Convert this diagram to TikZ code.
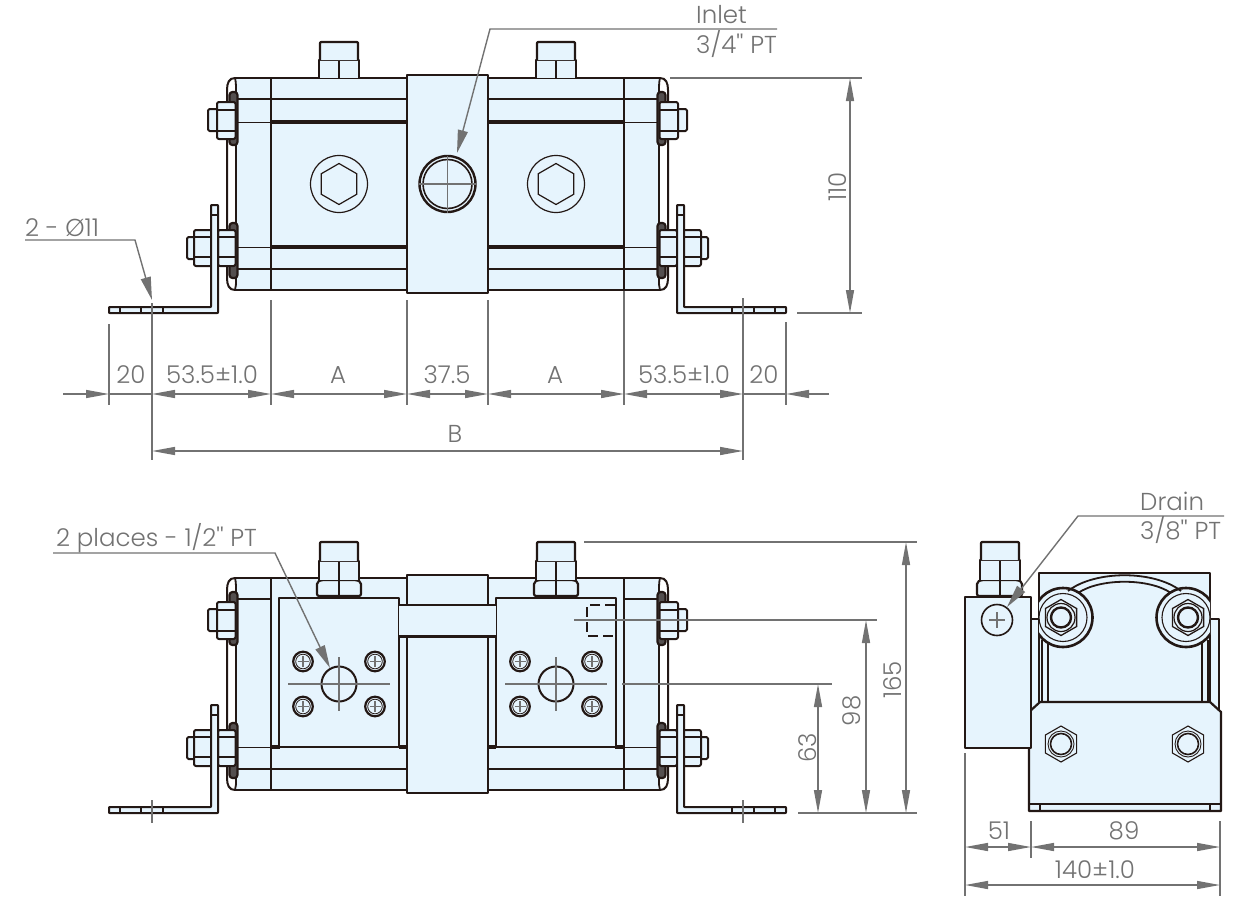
\documentclass[tikz,border=0pt]{standalone}
\usepackage{fontspec}
\usetikzlibrary{arrows.meta}
\newfontfamily\lab{Poppins}[UprightFont=* Light]
\definecolor{lc}{HTML}{231815}
\definecolor{bf}{HTML}{E6F4FD}
\definecolor{gc}{HTML}{727272}
\tikzset{
 blk/.style={line width=2pt,draw=lc,fill=bf,line join=round},
 ln/.style={line width=2pt,draw=lc},
 mid/.style={line width=2.8pt,draw=lc},
 thk/.style={line width=3.8pt,draw=lc},
 thn/.style={line width=1pt,draw=lc},
 dimln/.style={line width=1.4pt,draw=gc},
 dima/.style={dimln,{Triangle[length=23pt,width=8pt,fill=gc]}-{Triangle[length=23pt,width=8pt,fill=gc]}},
 dimo/.style={dimln,-{Triangle[length=23pt,width=8pt,fill=gc]}},
 lead/.style={dimln,-{Triangle[length=23pt,width=10pt,fill=gc]}},
 lbl/.style={text=gc,inner sep=0pt,font=\lab\fontsize{24.5}{28}\selectfont},
}
\newcommand\hexa[3]{(#1,#2) +(90:#3) -- +(150:#3) -- +(210:#3) -- +(270:#3) -- +(330:#3) -- +(30:#3) -- cycle}
\newcommand\bodyhalf{%
 \fill[bf] (236,78) rectangle (447.5,290);
 \draw[ln] (447.5,78) -- (235,78);
 \draw[ln] (447.5,290) -- (235,290);
 \draw[ln] (235,78) .. controls (229,78) and (227,83) .. (227,90) -- (227,278) .. controls (227,285) and (229,290) .. (235,290);
 \draw[line width=1.8pt,draw=lc] (235,78) .. controls (236,82) and (236,86) .. (236,92) -- (236,278) .. controls (236,284) and (236,287) .. (235,290);
 \draw[ln] (271,78) -- (271,290);
}
\newcommand\hardware{%
 % cover washers
 \draw[blk,line width=2.2pt,fill=lc!75!bf,rounded corners=3pt] (229.5,92) rectangle (237.5,145);
 \draw[blk,line width=2.2pt,fill=lc!75!bf,rounded corners=3pt] (229.5,223) rectangle (237.5,278);
 % upper nut
 \draw[blk,rounded corners=1.5pt] (208,109) rectangle (218,131);
 \draw[blk,rounded corners=2pt] (217,102) rectangle (235.5,139);
 \draw[thn,line width=1.4pt] (217,110) -- (235.5,110) (217,131) -- (235.5,131);
 % lower nuts
 \draw[blk,rounded corners=1.5pt] (187,237) rectangle (195,259);
 \draw[blk,rounded corners=2pt] (194,230) rectangle (212,266);
 \draw[thn,line width=1.4pt] (194,237) -- (212,237) (194,257) -- (212,257);
 \draw[blk,rounded corners=2pt] (218,230) rectangle (235.5,266);
 \draw[thn,line width=1.4pt] (218,237) -- (235.5,237) (218,257) -- (235.5,257);
 % bracket
 \draw[blk,rounded corners=.6pt] (109,307) -- (211,307) -- (211,205) -- (218,205) -- (218,313) -- (109,313) -- cycle;
 \draw[thn,line width=1.4pt] (211,215) -- (218,215);
 \draw[thn,line width=1.4pt] (120,307) -- (120,313) (141,307) -- (141,313) (163,307) -- (163,313);
}
\newcommand\halftop{%
 \bodyhalf
 \draw[mid] (236,99) -- (407,99);
 \draw[thn] (236,122) -- (271,122);
 \draw[thk] (271,122) -- (407,122);
 \draw[thk] (271,247) -- (407,247);
 \draw[thn] (236,247) -- (271,247);
 \draw[mid] (236,269) -- (407,269);
 \draw[ln] (271,78) -- (271,290);
 % top plug
 \draw[blk,line width=1.3pt] (319,78) -- (319,60) -- (359,60) -- (359,78);
 \draw[thn,line width=1.4pt] (339,60) -- (339,78);
 \draw[blk,line width=2.2pt,rounded corners=1pt] (320,60) -- (320,42) -- (358,42) -- (358,60);
 % socket screw
 \draw[line width=1.2pt,draw=lc] (339,184) circle[radius=28.5];
 \draw[line width=1.2pt,draw=lc] \hexa{339}{184}{20.5};
 \hardware
}
\newcommand\halfbot{%
 \begin{scope}[shift={(0,500)}]\bodyhalf\end{scope}
 \draw[mid] (236,599) -- (271,599);
 \draw[thn] (236,747) -- (407,747);
 \draw[thk] (271,747) -- (280,747) (399,747) -- (407,747);
 \draw[mid] (236,769) -- (407,769);
 \draw[ln] (271,578) -- (271,790);
 \begin{scope}[shift={(0,500)}]\hardware\end{scope}
 % plate
 \draw[blk,line width=2.2pt] (279,598) rectangle (399,747);
 \draw[thn,line width=1.2pt] (279,747) -- (399,747);
 % plug
 \draw[blk,line width=2.2pt,rounded corners=2pt] (317,596) -- (317,582) -- (321,580) -- (357,580) -- (361,582) -- (361,596) -- cycle;
 \draw[thn,line width=1.4pt] (339,580) -- (339,596);
 \draw[blk,line width=1.8pt] (319,580) -- (319,561) -- (359,561) -- (359,580);
 \draw[thn,line width=1.4pt] (339,561) -- (339,580);
 \draw[blk,line width=2.2pt,rounded corners=1pt] (320,561) -- (320,542) -- (358,542) -- (358,561);
}
\newcommand\screw[2]{%
 \draw[blk,line width=2.2pt] (#1,#2) circle[radius=9.8];
 \draw[thn,line width=.8pt] (#1,#2) circle[radius=7.3];
 \draw[dimln,line width=1.2pt] (#1-5.5,#2) -- (#1+5.5,#2) (#1,#2-5.5) -- (#1,#2+5.5);
}
\newcommand\flange[2]{%
 \draw[line width=2pt,draw=lc] (#1,#2) circle[radius=17.5];
 \screw{#1-36}{#2-22.5}\screw{#1+36}{#2-22.5}\screw{#1-36}{#2+22.5}\screw{#1+36}{#2+22.5}
 \draw[dimln] (#1-51,#2) -- (#1+51,#2);
 \draw[dimln] (#1,#2-27) -- (#1,#2+27);
}
% #1 hub x, #2 hub y, #3 ring x
\newcommand\washer[3]{%
 \draw[blk,line width=2.6pt] (#3,#2) circle[radius=29.5];
 \draw[thn,line width=1.1pt] (#3,#2) circle[radius=24];
 \draw[line width=1.3pt,draw=lc,fill=bf] \hexa{#1}{#2}{18};
 \draw[line width=1.2pt,draw=lc] (#1,#2) circle[radius=14];
 \draw[line width=2.4pt,draw=lc] (#1,#2) circle[radius=10];
}
\newcommand\lownut[2]{%
 \draw[line width=1.1pt,draw=lc] \hexa{#1}{#2}{18};
 \draw[line width=1.6pt,draw=lc] (#1,#2) circle[radius=10.5];
 \draw[line width=.9pt,draw=lc] (#1,#2) circle[radius=13];
}
\begin{document}
\begin{tikzpicture}[x=1pt,y=-1pt]
\useasboundingbox (0,0) rectangle (1244,921);
%% ---------- top view
\halftop
\begin{scope}[shift={(895,0)},xscale=-1]\halftop\end{scope}
\draw[blk,line width=2.2pt] (407,75) rectangle (488,293);
\draw[line width=2.4pt,draw=lc] (447.5,184) circle[radius=28];
\draw[line width=1.6pt,draw=lc] (447.5,184) circle[radius=24.5];
\draw[dimln] (419,184) -- (476,184) (447.5,155.5) -- (447.5,212.5);
%% ---------- bottom view
\halfbot
\begin{scope}[shift={(895,0)},xscale=-1]\halfbot\end{scope}
\draw[blk,line width=2.2pt] (407,575) rectangle (488,793);
\draw[fill=bf,draw=none] (399,605) rectangle (496,636);
\draw[ln,line width=1.6pt] (399,605) -- (496,605);
\draw[thk,line width=3pt] (399,636) -- (496,636);
\flange{339}{684}
\flange{556}{684}
\draw[lc,line width=1.5pt,dash pattern=on 10pt off 5pt] (615,605) -- (587,605) -- (587,636) -- (615,636);
%% ---------- side view
\draw[blk] (1031,619) -- (1039,619) -- (1039,712) -- (1031,712);
\draw[blk] (1219,619) -- (1210,619) -- (1210,712) -- (1219,712) -- cycle;
\draw[blk] (1039,573) rectangle (1210,702);
\draw[thn,line width=1.5pt] (1048,640) -- (1048,702) (1042,640) -- (1042,702) (1202,640) -- (1202,702) (1208,640) -- (1208,702);
\begin{scope}
 \clip (1039,560) rectangle (1210,660);
 \washer{1061}{617.5}{1063}
 \washer{1188}{617.5}{1186}
\end{scope}
\draw[line width=1.8pt,draw=lc] (1068,591) .. controls (1095,570) and (1154,570) .. (1181,591);
\draw[line width=1.8pt,draw=lc] (1078,593) .. controls (1100,578) and (1149,578) .. (1171,593);
\draw[blk,line width=2.2pt] (1029,712) -- (1040,702) -- (1210,702) -- (1221,712) -- (1221,811) -- (1029,811) -- cycle;
\draw[line width=2.2pt,draw=lc] (1029,804) -- (1221,804);
\draw[line width=1.4pt,draw=lc] (1040,804) -- (1040,811) (1210,804) -- (1210,811);
\lownut{1061}{744}
\lownut{1188}{744}
\draw[blk,line width=2.2pt,rounded corners=2pt] (977,596) -- (977,582) -- (981,580) -- (1018,580) -- (1022,582) -- (1022,596) -- cycle;
\draw[thn,line width=1.4pt] (1000,580) -- (1000,596);
\draw[blk,line width=1.8pt] (980,580) -- (980,560) -- (1020,560) -- (1020,580);
\draw[thn,line width=1.4pt] (1000,560) -- (1000,580);
\draw[blk,line width=2.2pt,rounded corners=1pt] (981,560) -- (981,542) -- (1019,542) -- (1019,560);
\draw[blk,line width=2.2pt] (965,597) rectangle (1031,748);
\draw[line width=1.6pt,draw=lc,fill=bf] (997,620) circle[radius=15.5];
\draw[dimln] (989,620) -- (1005,620) (997,612) -- (997,628);
%% ---------- extension lines
\draw[dimln] (109,324) -- (109,405) (152,303) -- (152,460) (271,300) -- (271,405) (407,300) -- (407,405)
 (488,300) -- (488,405) (624,291) -- (624,405) (743,298) -- (743,460) (786,322) -- (786,405);
\draw[dimln] (670,78) -- (862,78) (797,313) -- (862,313);
\draw[dimln] (584,542) -- (917,542) (574,620) -- (877,620) (622,684) -- (832,684) (798,813) -- (917,813);
\draw[dimln] (152,800) -- (152,823) (743,800) -- (743,823);
\draw[dimln] (965,753) -- (965,896) (1031,821) -- (1031,858) (1220,821) -- (1220,896);
%% ---------- dimension arrows
\coordinate (h0) at (63,394);
\coordinate (h1) at (109,394);
\coordinate (h2) at (152,394);
\coordinate (h3) at (271,394);
\coordinate (h4) at (407,394);
\coordinate (h5) at (488,394);
\coordinate (h6) at (624,394);
\coordinate (h7) at (743,394);
\coordinate (h8) at (786,394);
\coordinate (h9) at (829,394);
\draw[dimo] (h0) -- (h1);
\draw[dimo] (h9) -- (h8);
\draw[dimln] (h1) -- (h2);
\draw[dima] (h2) -- (h3);
\draw[dima] (h3) -- (h4);
\draw[dima] (h4) -- (h5);
\draw[dima] (h5) -- (h6);
\draw[dima] (h6) -- (h7);
\draw[dimln] (h7) -- (h8);
\draw[dima] (152,451) -- (743,451);
\draw[dima] (850,78) -- (850,313);
\draw[dima] (906,542) -- (906,813);
\draw[dima] (866,620) -- (866,813);
\draw[dima] (818,684) -- (818,813);
\draw[dima] (965,847) -- (1031,847);
\draw[dima] (1031,847) -- (1220,847);
\draw[dima] (965,885) -- (1220,885);
%% ---------- labels
\node[lbl] (d20a) at (131,375) {20};
\node[lbl] (d53a) at (212,375) {53.5±1.0};
\node[lbl] (dAa) at (338,375) {A};
\node[lbl] (d37) at (447,375) {37.5};
\node[lbl] (dAb) at (555,375) {A};
\node[lbl] (d53b) at (684,375) {53.5±1.0};
\node[lbl] (d20b) at (764,375) {20};
\node[lbl] (dB) at (455,434) {B};
\node[lbl,rotate=90] (d110) at (838,187) {110};
\node[lbl,rotate=90] (d165) at (893,680) {165};
\node[lbl,rotate=90] (d98) at (852,711) {98};
\node[lbl,rotate=90] (d63) at (808,748) {63};
\node[lbl] (d51) at (999,831) {51};
\node[lbl] (d89) at (1124,831) {89};
\node[lbl] (d140) at (1095,870) {140±1.0};
\node[lbl,anchor=west] (tInlet) at (696,15) {Inlet};
\node[lbl,anchor=west] (t34) at (696,44) {3/4'' PT};
\node[lbl,anchor=west] (t11) at (25,228) {2 - Ø11};
\node[lbl,anchor=west] (t12) at (56,538) {2 places - 1/2'' PT};
\node[lbl,anchor=west] (tDrain) at (1140,501) {Drain};
\node[lbl,anchor=west] (t38) at (1140,530) {3/8'' PT};
%% ---------- leaders
\coordinate (l1) at (777,29);
\coordinate (l2) at (490,29);
\coordinate (l3) at (457,153);
\draw[lead] (l1) -- (l2) -- (l3);
\coordinate (m1) at (25,240);
\coordinate (m2) at (135,240);
\coordinate (m3) at (152,300);
\draw[lead] (m1) -- (m2) -- (m3);
\coordinate (n1) at (53,553);
\coordinate (n2) at (275,553);
\coordinate (n3) at (330,668);
\draw[lead] (n1) -- (n2) -- (n3);
\coordinate (o1) at (1224,516);
\coordinate (o2) at (1078,516);
\coordinate (o3) at (1007,607);
\draw[lead] (o1) -- (o2) -- (o3);
\end{tikzpicture}
\end{document}
